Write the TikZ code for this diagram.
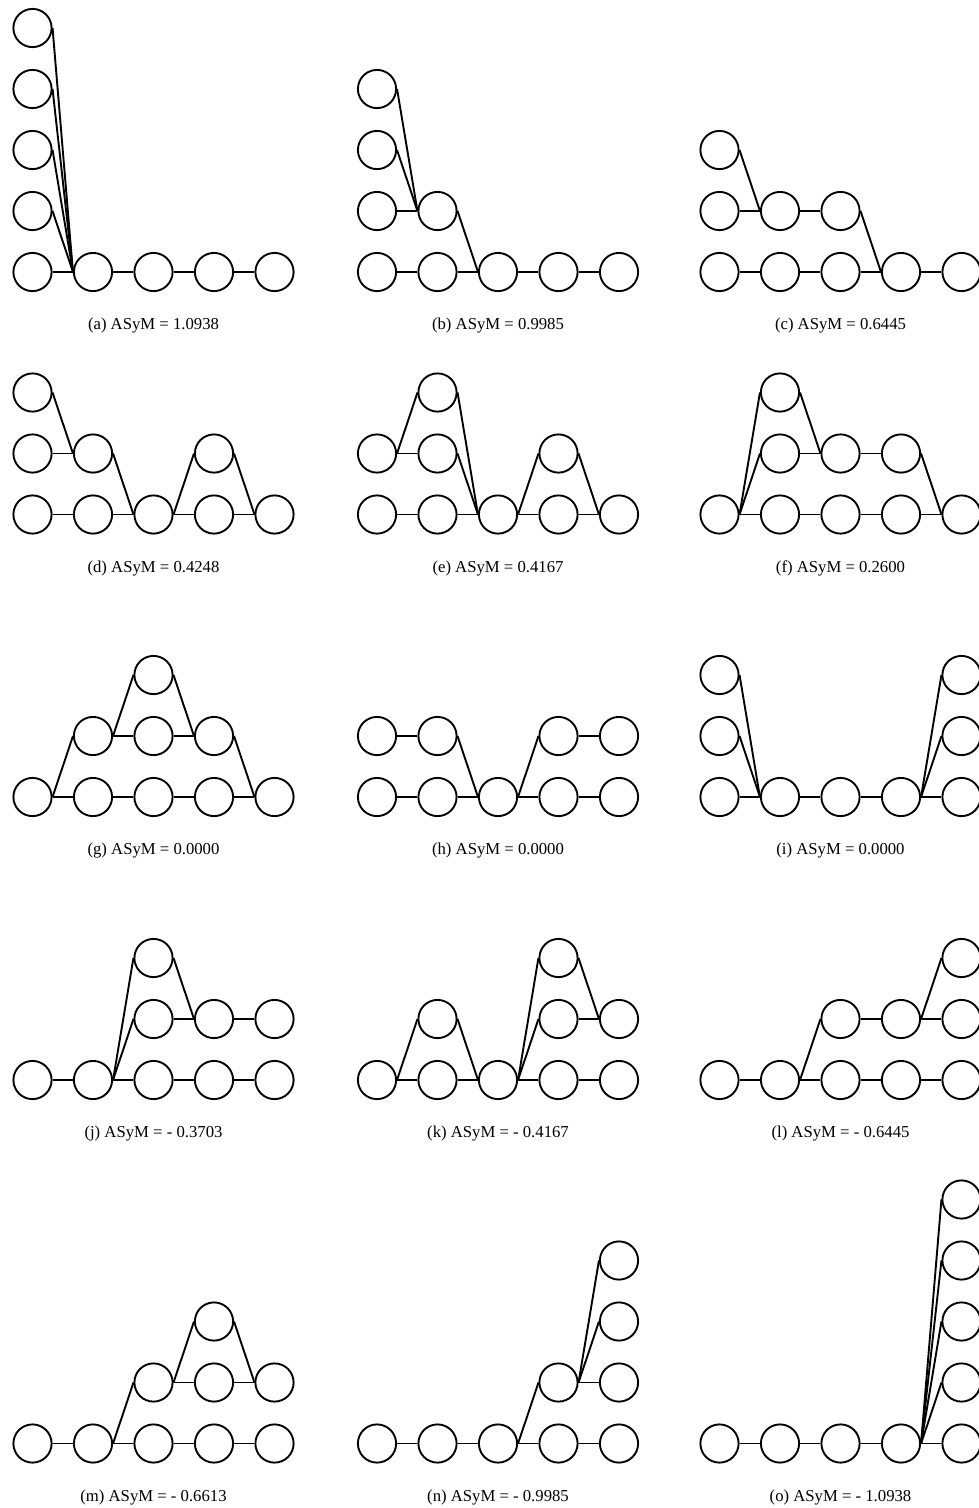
\documentclass[tikz,border=0pt]{standalone}
\usepackage{fontspec}
\setmainfont{Liberation Serif}
\usepackage{tikz}
\usetikzlibrary{positioning,calc}

\begin{document}
\begin{tikzpicture}[
            x=60.5pt, y=61pt,
            ball/.style={draw, circle, line width=1.9pt, minimum size=38.2pt, inner sep=0pt},
            link/.style={line width=1.9pt},
            caption/.style={font=\fontsize{16.7}{20}\selectfont, inner sep=0pt},
        ]
            \useasboundingbox (0pt,0pt) rectangle (979pt,-1508pt);

            % bottom chain and caption of every panel
            \foreach \pnl/\x/\y/\val in {a/32.5/272/1.0938, b/377/272/0.9985, c/719.5/272/0.6445,
                    d/32.5/514.5/0.4248, e/377/514.5/0.4167, f/719.5/514.5/0.2600,
                    g/32.5/797/0.0000, h/377/797/0.0000, i/719.5/797/0.0000,
                    j/32.5/1080/- 0.3703, k/377/1080/- 0.4167, l/719.5/1080/- 0.6445,
                    m/32.5/1443.5/- 0.6613, n/377/1443.5/- 0.9985, o/719.5/1443.5/- 1.0938}{
                \begin{scope}[shift={(\x pt,-\y pt)}]
                    \foreach \i in {1,...,5} \node[ball] (\pnl\i1) at (\i-1,0) {};
                    \foreach \i [count=\j from 2] in {1,...,4} \draw[link] (\pnl\i1.east) -- (\pnl\j1.west);
                    \node[caption] (\pnl cap) at (2,-0.88) {(\pnl) ASyM = \val};
                \end{scope}
            }

            % (a)
            \begin{scope}[shift={(32.5pt,-272pt)}]
                \foreach \j in {2,...,5} {
                    \node[ball] (a1\j) at (0,\j-1) {};
                    \draw[link] (a1\j.east) -- (a21.west);
                }
            \end{scope}

            % (b)
            \begin{scope}[shift={(377pt,-272pt)}]
                \node[ball] (b12) at (0,1) {};
                \node[ball] (b13) at (0,2) {};
                \node[ball] (b14) at (0,3) {};
                \node[ball] (b22) at (1,1) {};
                \draw[link] (b12.east) -- (b22.west);
                \draw[link] (b13.east) -- (b22.west);
                \draw[link] (b14.east) -- (b22.west);
                \draw[link] (b22.east) -- (b31.west);
            \end{scope}

            % (c)
            \begin{scope}[shift={(719.5pt,-272pt)}]
                \node[ball] (c12) at (0,1) {};
                \node[ball] (c13) at (0,2) {};
                \node[ball] (c22) at (1,1) {};
                \node[ball] (c32) at (2,1) {};
                \draw[link] (c12.east) -- (c22.west);
                \draw[link] (c13.east) -- (c22.west);
                \draw[link] (c22.east) -- (c32.west);
                \draw[link] (c32.east) -- (c41.west);
            \end{scope}

            % (d)
            \begin{scope}[shift={(32.5pt,-514.5pt)}]
                \node[ball] (d12) at (0,1) {};
                \node[ball] (d13) at (0,2) {};
                \node[ball] (d22) at (1,1) {};
                \node[ball] (d42) at (3,1) {};
                \draw[link] (d12.east) -- (d22.west);
                \draw[link] (d13.east) -- (d22.west);
                \draw[link] (d22.east) -- (d31.west);
                \draw[link] (d31.east) -- (d42.west);
                \draw[link] (d42.east) -- (d51.west);
            \end{scope}

            % (e)
            \begin{scope}[shift={(377pt,-514.5pt)}]
                \node[ball] (e12) at (0,1) {};
                \node[ball] (e22) at (1,1) {};
                \node[ball] (e23) at (1,2) {};
                \node[ball] (e42) at (3,1) {};
                \draw[link] (e12.east) -- (e22.west);
                \draw[link] (e12.east) -- (e23.west);
                \draw[link] (e22.east) -- (e31.west);
                \draw[link] (e23.east) -- (e31.west);
                \draw[link] (e31.east) -- (e42.west);
                \draw[link] (e42.east) -- (e51.west);
            \end{scope}

            % (f)
            \begin{scope}[shift={(719.5pt,-514.5pt)}]
                \node[ball] (f22) at (1,1) {};
                \node[ball] (f23) at (1,2) {};
                \node[ball] (f32) at (2,1) {};
                \node[ball] (f42) at (3,1) {};
                \draw[link] (f11.east) -- (f22.west);
                \draw[link] (f11.east) -- (f23.west);
                \draw[link] (f22.east) -- (f32.west);
                \draw[link] (f23.east) -- (f32.west);
                \draw[link] (f32.east) -- (f42.west);
                \draw[link] (f42.east) -- (f51.west);
            \end{scope}

            % (g)
            \begin{scope}[shift={(32.5pt,-797pt)}]
                \node[ball] (g22) at (1,1) {};
                \node[ball] (g32) at (2,1) {};
                \node[ball] (g33) at (2,2) {};
                \node[ball] (g42) at (3,1) {};
                \draw[link] (g11.east) -- (g22.west);
                \draw[link] (g22.east) -- (g32.west);
                \draw[link] (g22.east) -- (g33.west);
                \draw[link] (g32.east) -- (g42.west);
                \draw[link] (g33.east) -- (g42.west);
                \draw[link] (g42.east) -- (g51.west);
            \end{scope}

            % (h)
            \begin{scope}[shift={(377pt,-797pt)}]
                \node[ball] (h12) at (0,1) {};
                \node[ball] (h22) at (1,1) {};
                \node[ball] (h42) at (3,1) {};
                \node[ball] (h52) at (4,1) {};
                \draw[link] (h12.east) -- (h22.west);
                \draw[link] (h22.east) -- (h31.west);
                \draw[link] (h31.east) -- (h42.west);
                \draw[link] (h42.east) -- (h52.west);
            \end{scope}

            % (i)
            \begin{scope}[shift={(719.5pt,-797pt)}]
                \node[ball] (i12) at (0,1) {};
                \node[ball] (i13) at (0,2) {};
                \node[ball] (i52) at (4,1) {};
                \node[ball] (i53) at (4,2) {};
                \draw[link] (i12.east) -- (i21.west);
                \draw[link] (i13.east) -- (i21.west);
                \draw[link] (i41.east) -- (i52.west);
                \draw[link] (i41.east) -- (i53.west);
            \end{scope}

            % (j)
            \begin{scope}[shift={(32.5pt,-1080pt)}]
                \node[ball] (j32) at (2,1) {};
                \node[ball] (j33) at (2,2) {};
                \node[ball] (j42) at (3,1) {};
                \node[ball] (j52) at (4,1) {};
                \draw[link] (j21.east) -- (j32.west);
                \draw[link] (j21.east) -- (j33.west);
                \draw[link] (j32.east) -- (j42.west);
                \draw[link] (j33.east) -- (j42.west);
                \draw[link] (j42.east) -- (j52.west);
            \end{scope}

            % (k)
            \begin{scope}[shift={(377pt,-1080pt)}]
                \node[ball] (k22) at (1,1) {};
                \node[ball] (k42) at (3,1) {};
                \node[ball] (k43) at (3,2) {};
                \node[ball] (k52) at (4,1) {};
                \draw[link] (k11.east) -- (k22.west);
                \draw[link] (k22.east) -- (k31.west);
                \draw[link] (k31.east) -- (k42.west);
                \draw[link] (k31.east) -- (k43.west);
                \draw[link] (k42.east) -- (k52.west);
                \draw[link] (k43.east) -- (k52.west);
            \end{scope}

            % (l)
            \begin{scope}[shift={(719.5pt,-1080pt)}]
                \node[ball] (l32) at (2,1) {};
                \node[ball] (l42) at (3,1) {};
                \node[ball] (l52) at (4,1) {};
                \node[ball] (l53) at (4,2) {};
                \draw[link] (l21.east) -- (l32.west);
                \draw[link] (l32.east) -- (l42.west);
                \draw[link] (l42.east) -- (l52.west);
                \draw[link] (l42.east) -- (l53.west);
            \end{scope}

            % (m)
            \begin{scope}[shift={(32.5pt,-1443.5pt)}]
                \node[ball] (m32) at (2,1) {};
                \node[ball] (m42) at (3,1) {};
                \node[ball] (m43) at (3,2) {};
                \node[ball] (m52) at (4,1) {};
                \draw[link] (m21.east) -- (m32.west);
                \draw[link] (m32.east) -- (m42.west);
                \draw[link] (m32.east) -- (m43.west);
                \draw[link] (m42.east) -- (m52.west);
                \draw[link] (m43.east) -- (m52.west);
            \end{scope}

            % (n)
            \begin{scope}[shift={(377pt,-1443.5pt)}]
                \node[ball] (n42) at (3,1) {};
                \node[ball] (n52) at (4,1) {};
                \node[ball] (n53) at (4,2) {};
                \node[ball] (n54) at (4,3) {};
                \draw[link] (n31.east) -- (n42.west);
                \draw[link] (n42.east) -- (n52.west);
                \draw[link] (n42.east) -- (n53.west);
                \draw[link] (n42.east) -- (n54.west);
            \end{scope}

            % (o)
            \begin{scope}[shift={(719.5pt,-1443.5pt)}]
                \foreach \j in {2,...,5} {
                    \node[ball] (o5\j) at (4,\j-1) {};
                    \draw[link] (o41.east) -- (o5\j.west);
                }
            \end{scope}
        \end{tikzpicture}
\end{document}
